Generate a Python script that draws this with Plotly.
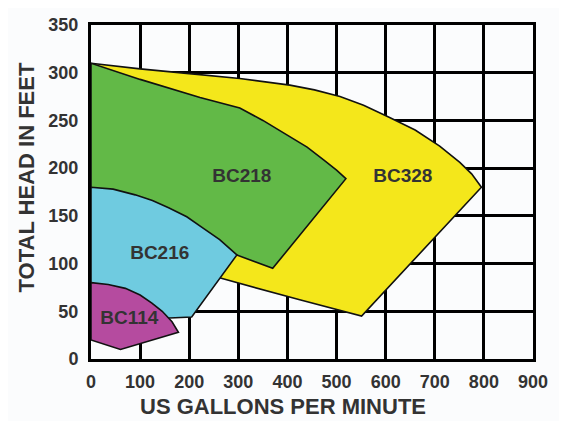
import plotly.graph_objects as go

# Pump performance regions (US GPM vs total head in feet)
bc328_gpm = [0, 100, 200, 303, 405, 455, 507, 555, 608, 660, 710, 751, 775, 795, 551, 425, 269, 200, 0, 0]
bc328_ft = [310, 304, 299, 294, 287, 282, 275, 266, 253, 240, 223, 206, 194, 180, 45, 62, 84, 94, 100, 310]

bc218_gpm = [0, 100, 222, 303, 350, 405, 440, 473, 500, 519, 370, 297, 0, 0]
bc218_ft = [310, 293, 274, 263, 250, 233, 222, 209, 198, 189, 95, 109, 130, 310]

bc216_gpm = [0, 45, 90, 125, 158, 195, 226, 262, 297, 205, 160, 0, 0]
bc216_ft = [180, 178, 172, 166, 158.5, 149, 138, 125, 109, 44, 43, 43, 180]

bc114_gpm = [0, 35, 70, 100, 124, 145, 165, 178, 60, 0, 0]
bc114_ft = [80, 78, 74, 67, 58.5, 50, 39, 28, 10, 20, 80]

series = [
    ("BC328", bc328_gpm, bc328_ft, "#F4E71B"),
    ("BC218", bc218_gpm, bc218_ft, "#62B947"),
    ("BC216", bc216_gpm, bc216_ft, "#6FCBE0"),
    ("BC114", bc114_gpm, bc114_ft, "#B54B9F"),
]

label_names = ["BC328", "BC218", "BC216", "BC114"]
label_gpm = [635, 307, 140, 78]
label_ft = [190, 190, 110, 41.5]

x_ticks = [0, 100, 200, 300, 400, 500, 600, 700, 800, 900]
y_ticks = [0, 50, 100, 150, 200, 250, 300, 350]

fig = go.Figure()
for name, xs, ys, col in series:
    fig.add_trace(go.Scatter(
        x=xs, y=ys, mode="lines", fill="toself", fillcolor=col,
        line=dict(color="#111111", width=1.6), name=name,
        hoverinfo="skip", showlegend=False,
    ))

fig.add_trace(go.Scatter(
    x=label_gpm, y=label_ft, mode="text", text=[f"<b>{t}</b>" for t in label_names],
    textfont=dict(family="Liberation Sans, Arial, sans-serif", size=19, color="#333333"),
    showlegend=False, hoverinfo="skip",
))

axis_font = dict(family="Liberation Sans, Arial, sans-serif", size=18, color="#333333")

fig.update_xaxes(
    range=[0, 900], tickvals=x_ticks, ticktext=[f"<b>{v}</b>" for v in x_ticks],
    showgrid=True, gridcolor="#000000", gridwidth=3,
    showline=True, linecolor="#000000", linewidth=3, mirror=True,
    zeroline=False, ticks="", tickfont=axis_font, fixedrange=True,
    ticklabelstandoff=4,
)
fig.update_yaxes(
    range=[0, 350], tickvals=y_ticks, ticktext=[f"<b>{v}</b>" for v in y_ticks],
    showgrid=True, gridcolor="#000000", gridwidth=3,
    showline=True, linecolor="#000000", linewidth=3, mirror=True,
    zeroline=False, ticks="", tickfont=axis_font, fixedrange=True,
    ticklabelstandoff=6,
)

# page has an 8px body margin, so the figure is laid out in a 559x413 box at (8, 8)
L, T, W, H = 83, 7, 442, 344
title_font = dict(family="Liberation Sans, Arial, sans-serif", size=22, color="#333333")
fig.add_annotation(
    text="<b>US GALLONS PER MINUTE</b>", xref="paper", yref="paper",
    x=(274.5 - L) / W, y=-(400 - (T + H)) / H, showarrow=False,
    xanchor="center", yanchor="middle", font=title_font,
)
fig.add_annotation(
    text="<b>TOTAL HEAD IN FEET</b>", xref="paper", yref="paper",
    x=-(L - 18.5) / W, y=((T + H) - 164.5) / H, showarrow=False,
    xanchor="center", yanchor="middle", textangle=-90, font=title_font,
)

fig.update_layout(
    width=559, height=413,
    margin=dict(l=L, r=559 - L - W, t=T, b=413 - T - H),
    paper_bgcolor="#FBFCFD", plot_bgcolor="#FBFCFD",
    showlegend=False,
)

fig.write_html("out.html")
